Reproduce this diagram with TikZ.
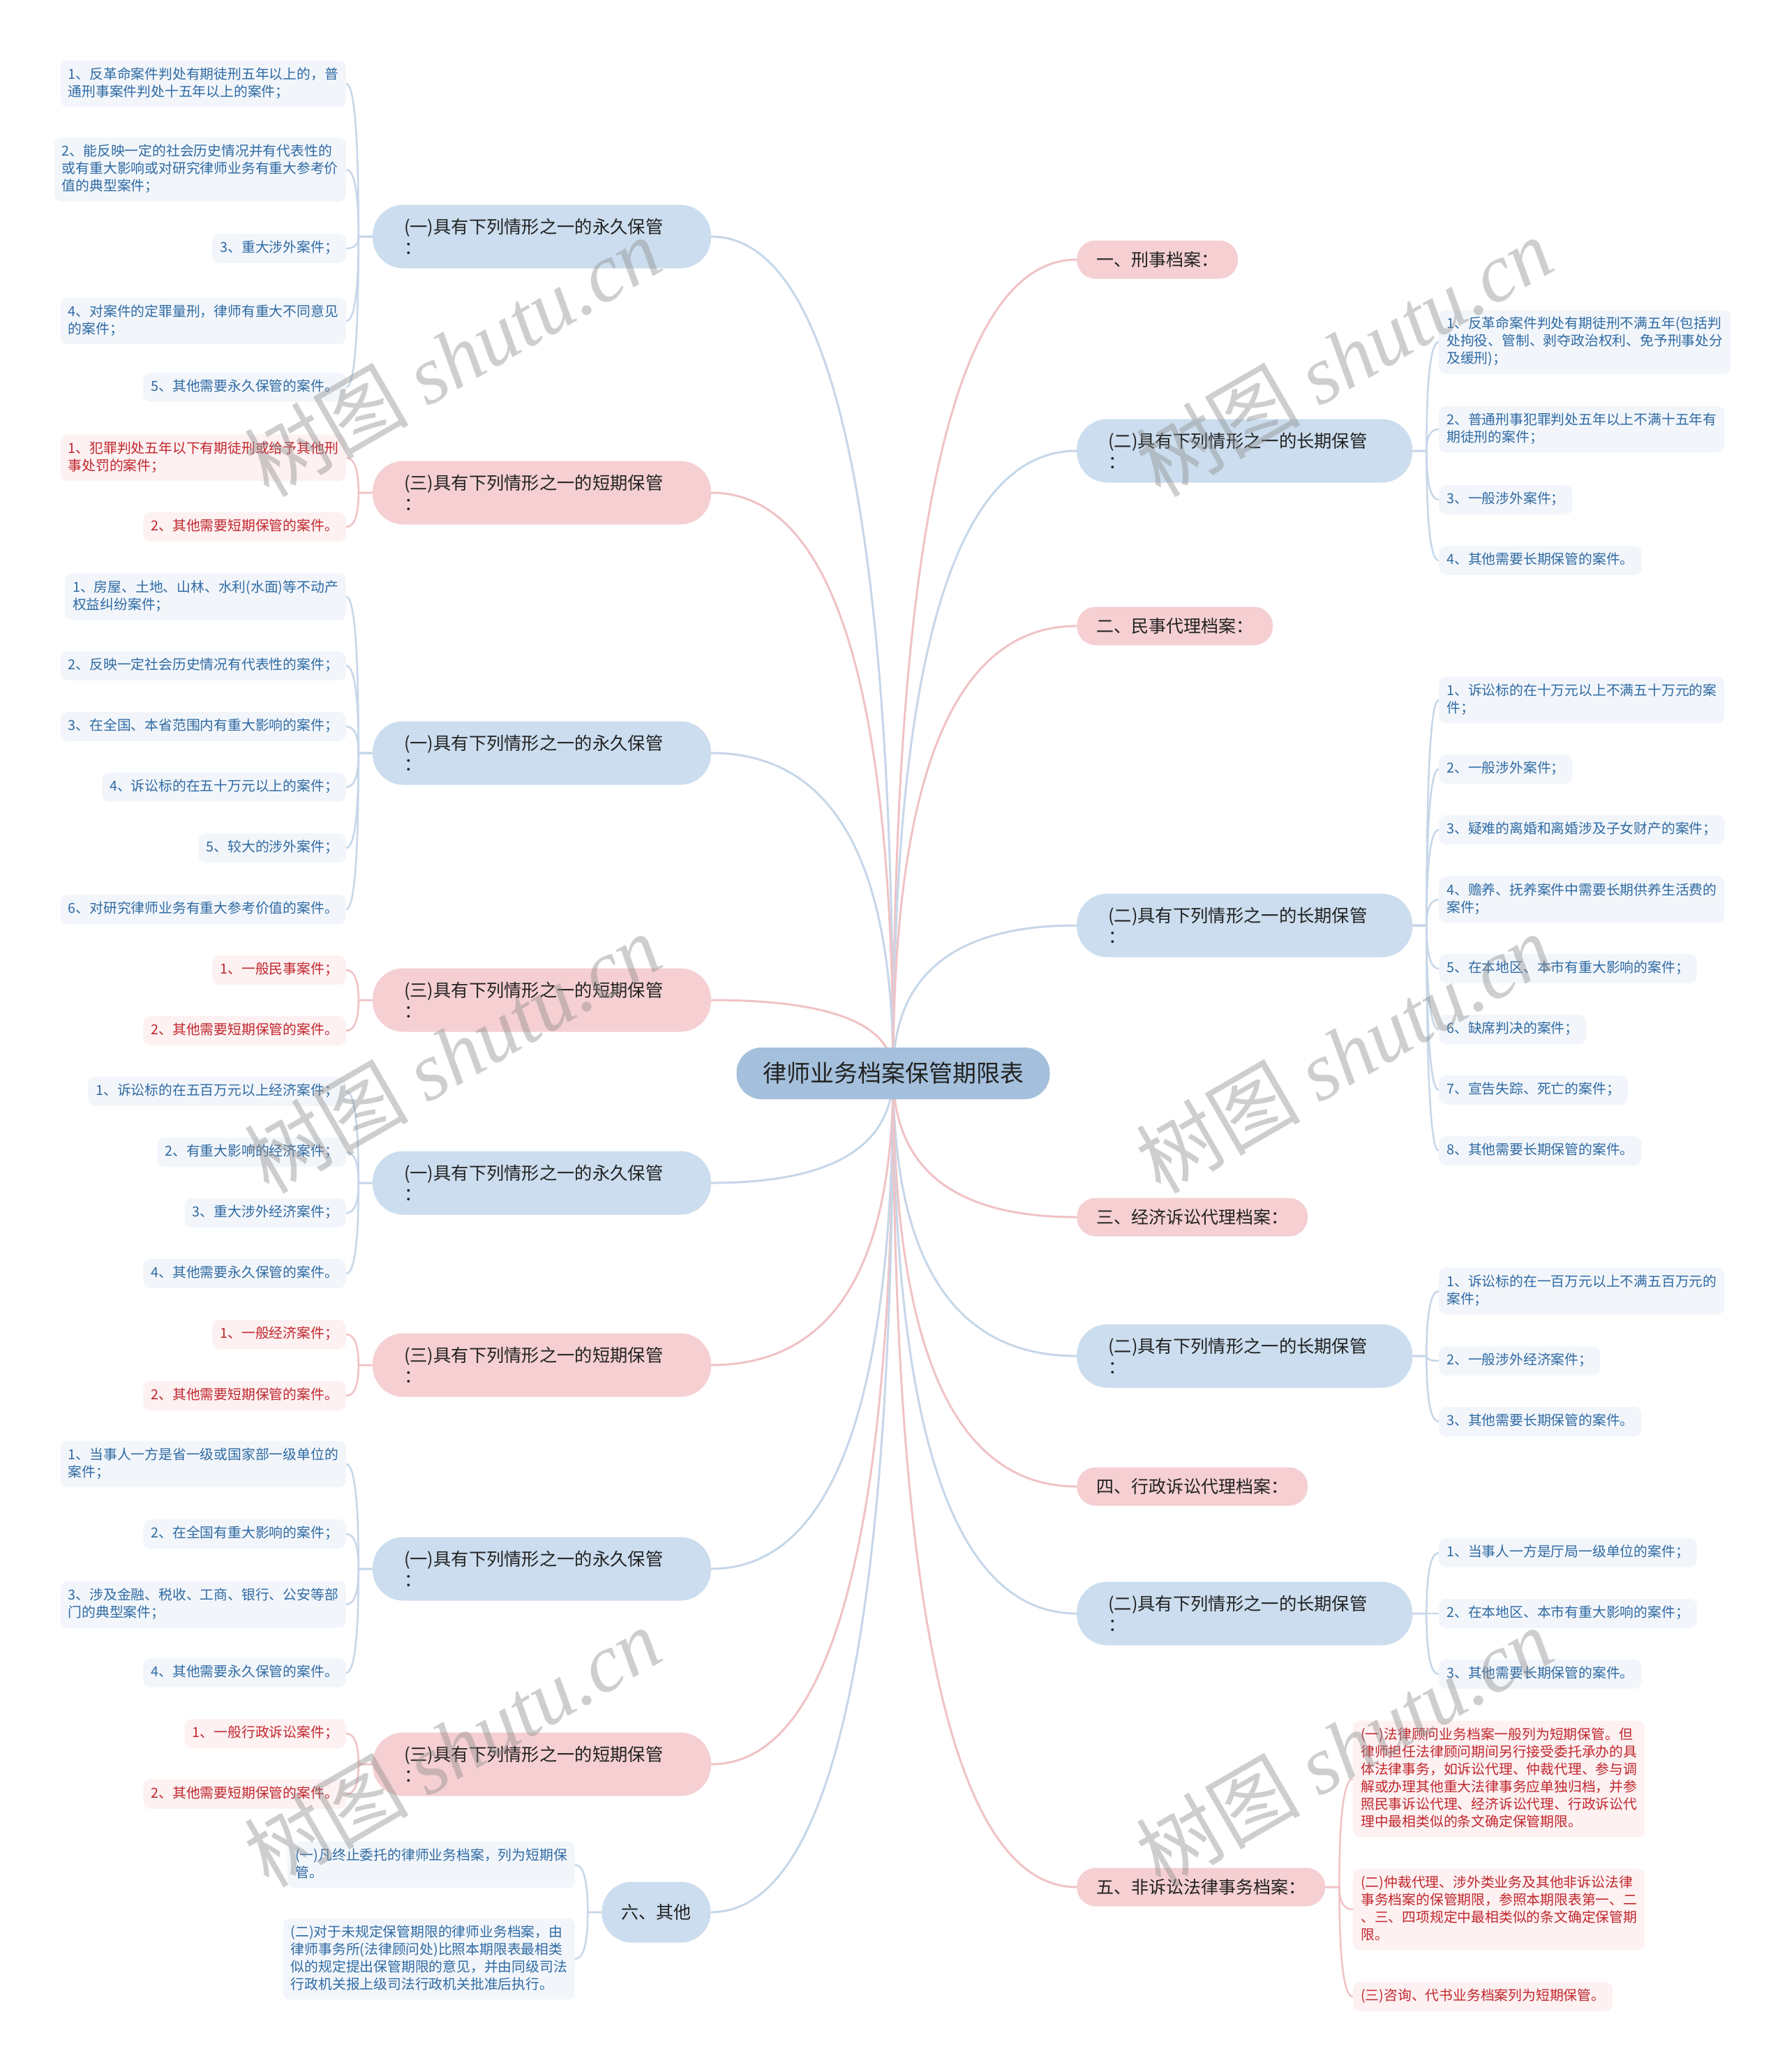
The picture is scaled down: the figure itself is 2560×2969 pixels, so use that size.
\documentclass[tikz,border=0pt]{standalone}
\usepackage{fontspec}
\setmainfont{Noto Sans CJK SC}
\newfontfamily\wmlat{Liberation Serif}
\usetikzlibrary{calc,backgrounds}
\definecolor{rootfill}{HTML}{A4C0DC}
\definecolor{bluefill}{HTML}{CBDDEE}
\definecolor{pinkfill}{HTML}{F5CFD2}
\definecolor{leafblue}{HTML}{F2F6FB}
\definecolor{leafred}{HTML}{FDF1F2}
\definecolor{txtblue}{HTML}{2F6AA3}
\definecolor{txtred}{HTML}{C1272D}
\definecolor{lnblue}{HTML}{C6D7E8}
\definecolor{lnpink}{HTML}{F0C2C5}
\definecolor{txtdark}{HTML}{222222}
\definecolor{wmgray}{HTML}{8C8C8C}
\newcommand{\lstrut}{\rule[-5pt]{0pt}{20pt}}
\newcommand{\rootL}[2]{%
  \path (root.center |- #2.east) coordinate (mmq);
  \draw[#1,line width=3pt] (root.center) .. controls ($(root.center)!0.667!(mmq)$) and ($(#2.east)!0.667!(mmq)$) .. (#2.east);}
\newcommand{\rootR}[2]{%
  \path (root.center |- #2.west) coordinate (mmq);
  \draw[#1,line width=3pt] (root.center) .. controls ($(root.center)!0.667!(mmq)$) and ($(#2.west)!0.667!(mmq)$) .. (#2.west);}
\newcommand{\hookL}[3]{%
  \path ([xshift=-20pt]#2.west) coordinate (hj);
  \path (hj |- #3.east) coordinate (hq);
  \draw[#1,line width=2.5pt] (#2.west) -- (hj) .. controls ($(hj)!0.667!(hq)$) and ($(#3.east)!0.667!(hq)$) .. (#3.east);}
\newcommand{\hookR}[3]{%
  \path ([xshift=20pt]#2.east) coordinate (hj);
  \path (hj |- #3.west) coordinate (hq);
  \draw[#1,line width=2.5pt] (#2.east) -- (hj) .. controls ($(hj)!0.667!(hq)$) and ($(#3.west)!0.667!(hq)$) .. (#3.west);}
\tikzset{
  rootnode/.style={fill=rootfill, rounded corners=36pt, minimum width=449pt, minimum height=74pt, font=\fontsize{34}{40}\selectfont, text=txtdark, inner sep=0pt},
  lvone/.style={rounded corners=44pt, minimum height=91pt, text width=395pt, inner xsep=45pt, inner ysep=0pt, align=left, font=\fontsize{25.3}{30}\selectfont, text=txtdark},
  lvblue/.style={lvone, fill=bluefill},
  lvpink/.style={lvone, fill=pinkfill},
  lvr/.style={text width=391pt},
  lvsingle/.style={fill=pinkfill, rounded corners=27pt, minimum height=55pt, inner xsep=28pt, inner ysep=0pt, font=\fontsize{25}{30}\selectfont, text=txtdark},
  sixnode/.style={fill=bluefill, rounded corners=43pt, minimum height=87pt, inner xsep=28pt, inner ysep=0pt, font=\fontsize{25}{30}\selectfont, text=txtdark},
  leaf/.style={rounded corners=10pt, inner xsep=11pt, inner ysep=10pt, align=left, font=\fontsize{19.8}{25}\selectfont, execute at begin node=\lstrut, execute at end node=\lstrut},
  leafb/.style={leaf, fill=leafblue, text=txtblue},
  leafr/.style={leaf, fill=leafred, text=txtred},
  wm/.style={rotate=30, text=wmgray, text opacity=0.42, font=\fontsize{118}{118}\selectfont}
}
\begin{document}
\begin{tikzpicture}[x=1pt,y=-1pt]
\useasboundingbox (0,0) rectangle (2560,2969);
% root
\node[rootnode] (root) at (1280,1538) {律师业务档案保管期限表};
% left level one
\node[lvblue] (pA) at (776.5,339) {(一)具有下列情形之一的永久保管\\：};
\node[lvpink] (sA) at (776.5,706) {(三)具有下列情形之一的短期保管\\：};
\node[lvblue] (pB) at (776.5,1079) {(一)具有下列情形之一的永久保管\\：};
\node[lvpink] (sB) at (776.5,1433) {(三)具有下列情形之一的短期保管\\：};
\node[lvblue] (pC) at (776.5,1695) {(一)具有下列情形之一的永久保管\\：};
\node[lvpink] (sC) at (776.5,1956) {(三)具有下列情形之一的短期保管\\：};
\node[lvblue] (pD) at (776.5,2248) {(一)具有下列情形之一的永久保管\\：};
\node[lvpink] (sD) at (776.5,2528) {(三)具有下列情形之一的短期保管\\：};
\node[sixnode] (six) at (940.5,2740) {六、其他};
% right level one
\node[lvsingle, anchor=west] (k1) at (1543,372) {一、刑事档案：};
\node[lvblue, lvr, anchor=west] (lA) at (1543,646) {(二)具有下列情形之一的长期保管\\：};
\node[lvsingle, anchor=west] (k2) at (1543,897) {二、民事代理档案：};
\node[lvblue, lvr, anchor=west] (lB) at (1543,1326) {(二)具有下列情形之一的长期保管\\：};
\node[lvsingle, anchor=west] (k3) at (1543,1744) {三、经济诉讼代理档案：};
\node[lvblue, lvr, anchor=west] (lC) at (1543,1943) {(二)具有下列情形之一的长期保管\\：};
\node[lvsingle, anchor=west] (k4) at (1543,2130) {四、行政诉讼代理档案：};
\node[lvblue, lvr, anchor=west] (lD) at (1543,2312) {(二)具有下列情形之一的长期保管\\：};
\node[lvsingle, anchor=west] (k5) at (1543,2704) {五、非诉讼法律事务档案：};
% left leaves
\node[leafb, anchor=east] (a1) at (496,120) {1、反革命案件判处有期徒刑五年以上的，普\\通刑事案件判处十五年以上的案件；};
\node[leafb, anchor=east] (a2) at (496,243) {2、能反映一定的社会历史情况并有代表性的\\或有重大影响或对研究律师业务有重大参考价\\值的典型案件；};
\node[leafb, anchor=east] (a3) at (496,356) {3、重大涉外案件；};
\node[leafb, anchor=east] (a4) at (496,460) {4、对案件的定罪量刑，律师有重大不同意见\\的案件；};
\node[leafb, anchor=east] (a5) at (496,555) {5、其他需要永久保管的案件。};
\node[leafr, anchor=east] (b1) at (496,656) {1、犯罪判处五年以下有期徒刑或给予其他刑\\事处罚的案件；};
\node[leafr, anchor=east] (b2) at (496,755) {2、其他需要短期保管的案件。};
\node[leafb, anchor=east] (c1) at (496,855) {1、房屋、土地、山林、水利(水面)等不动产\\权益纠纷案件；};
\node[leafb, anchor=east] (c2) at (496,954) {2、反映一定社会历史情况有代表性的案件；};
\node[leafb, anchor=east] (c3) at (496,1041) {3、在全国、本省范围内有重大影响的案件；};
\node[leafb, anchor=east] (c4) at (496,1128) {4、诉讼标的在五十万元以上的案件；};
\node[leafb, anchor=east] (c5) at (496,1215) {5、较大的涉外案件；};
\node[leafb, anchor=east] (c6) at (496,1303) {6、对研究律师业务有重大参考价值的案件。};
\node[leafr, anchor=east] (d1) at (496,1390) {1、一般民事案件；};
\node[leafr, anchor=east] (d2) at (496,1477) {2、其他需要短期保管的案件。};
\node[leafb, anchor=east] (e1) at (496,1564) {1、诉讼标的在五百万元以上经济案件；};
\node[leafb, anchor=east] (e2) at (496,1651) {2、有重大影响的经济案件；};
\node[leafb, anchor=east] (e3) at (496,1738) {3、重大涉外经济案件；};
\node[leafb, anchor=east] (e4) at (496,1825) {4、其他需要永久保管的案件。};
\node[leafr, anchor=east] (f1) at (496,1912) {1、一般经济案件；};
\node[leafr, anchor=east] (f2) at (496,2000) {2、其他需要短期保管的案件。};
\node[leafb, anchor=east] (g1) at (496,2098) {1、当事人一方是省一级或国家部一级单位的\\案件；};
\node[leafb, anchor=east] (g2) at (496,2198) {2、在全国有重大影响的案件；};
\node[leafb, anchor=east] (g3) at (496,2299) {3、涉及金融、税收、工商、银行、公安等部\\门的典型案件；};
\node[leafb, anchor=east] (g4) at (496,2397) {4、其他需要永久保管的案件。};
\node[leafr, anchor=east] (h1) at (496,2484) {1、一般行政诉讼案件；};
\node[leafr, anchor=east] (h2) at (496,2571) {2、其他需要短期保管的案件。};
\node[leafb, anchor=east] (i1) at (824,2672) {(一)凡终止委托的律师业务档案，列为短期保\\管。};
\node[leafb, anchor=east] (i2) at (824,2807) {(二)对于未规定保管期限的律师业务档案，由\\律师事务所(法律顾问处)比照本期限表最相类\\似的规定提出保管期限的意见，并由同级司法\\行政机关报上级司法行政机关批准后执行。};
% right leaves
\node[leafb, anchor=west] (m1) at (2062,490) {1、反革命案件判处有期徒刑不满五年(包括判\\处拘役、管制、剥夺政治权利、免予刑事处分\\及缓刑)；};
\node[leafb, anchor=west] (m2) at (2062,615) {2、普通刑事犯罪判处五年以上不满十五年有\\期徒刑的案件；};
\node[leafb, anchor=west] (m3) at (2062,716) {3、一般涉外案件；};
\node[leafb, anchor=west] (m4) at (2062,803) {4、其他需要长期保管的案件。};
\node[leafb, anchor=west] (n1) at (2062,1003) {1、诉讼标的在十万元以上不满五十万元的案\\件；};
\node[leafb, anchor=west] (n2) at (2062,1102) {2、一般涉外案件；};
\node[leafb, anchor=west] (n3) at (2062,1189) {3、疑难的离婚和离婚涉及子女财产的案件；};
\node[leafb, anchor=west] (n4) at (2062,1289) {4、赡养、抚养案件中需要长期供养生活费的\\案件；};
\node[leafb, anchor=west] (n5) at (2062,1388) {5、在本地区、本市有重大影响的案件；};
\node[leafb, anchor=west] (n6) at (2062,1475) {6、缺席判决的案件；};
\node[leafb, anchor=west] (n7) at (2062,1562) {7、宣告失踪、死亡的案件；};
\node[leafb, anchor=west] (n8) at (2062,1649) {8、其他需要长期保管的案件。};
\node[leafb, anchor=west] (o1) at (2062,1850) {1、诉讼标的在一百万元以上不满五百万元的\\案件；};
\node[leafb, anchor=west] (o2) at (2062,1950) {2、一般涉外经济案件；};
\node[leafb, anchor=west] (o3) at (2062,2037) {3、其他需要长期保管的案件。};
\node[leafb, anchor=west] (q1) at (2062,2225) {1、当事人一方是厅局一级单位的案件；};
\node[leafb, anchor=west] (q2) at (2062,2312) {2、在本地区、本市有重大影响的案件；};
\node[leafb, anchor=west] (q3) at (2062,2399) {3、其他需要长期保管的案件。};
\node[leafr, anchor=west] (r1) at (1939,2549) {(一)法律顾问业务档案一般列为短期保管。但\\律师担任法律顾问期间另行接受委托承办的具\\体法律事务，如诉讼代理、仲裁代理、参与调\\解或办理其他重大法律事务应单独归档，并参\\照民事诉讼代理、经济诉讼代理、行政诉讼代\\理中最相类似的条文确定保管期限。};
\node[leafr, anchor=west] (r2) at (1939,2736) {(二)仲裁代理、涉外类业务及其他非诉讼法律\\事务档案的保管期限，参照本期限表第一、二\\、三、四项规定中最相类似的条文确定保管期\\限。};
\node[leafr, anchor=west] (r3) at (1939,2861) {(三)咨询、代书业务档案列为短期保管。};
% connectors
\begin{scope}[on background layer]
\fill[white] (0,0) rectangle (2560,2969);
\rootL{lnblue}{pA}\rootL{lnpink}{sA}\rootL{lnblue}{pB}\rootL{lnpink}{sB}
\rootL{lnblue}{pC}\rootL{lnpink}{sC}\rootL{lnblue}{pD}\rootL{lnpink}{sD}
\rootL{lnblue}{six}
\rootR{lnpink}{k1}\rootR{lnblue}{lA}\rootR{lnpink}{k2}\rootR{lnblue}{lB}
\rootR{lnpink}{k3}\rootR{lnblue}{lC}\rootR{lnpink}{k4}\rootR{lnblue}{lD}
\rootR{lnpink}{k5}
\foreach \l in {a1,a2,a3,a4,a5} {\hookL{lnblue}{pA}{\l}}
\foreach \l in {b1,b2} {\hookL{lnpink}{sA}{\l}}
\foreach \l in {c1,c2,c3,c4,c5,c6} {\hookL{lnblue}{pB}{\l}}
\foreach \l in {d1,d2} {\hookL{lnpink}{sB}{\l}}
\foreach \l in {e1,e2,e3,e4} {\hookL{lnblue}{pC}{\l}}
\foreach \l in {f1,f2} {\hookL{lnpink}{sC}{\l}}
\foreach \l in {g1,g2,g3,g4} {\hookL{lnblue}{pD}{\l}}
\foreach \l in {h1,h2} {\hookL{lnpink}{sD}{\l}}
\foreach \l in {i1,i2} {\hookL{lnblue}{six}{\l}}
\foreach \l in {m1,m2,m3,m4} {\hookR{lnblue}{lA}{\l}}
\foreach \l in {n1,n2,n3,n4,n5,n6,n7,n8} {\hookR{lnblue}{lB}{\l}}
\foreach \l in {o1,o2,o3} {\hookR{lnblue}{lC}{\l}}
\foreach \l in {q1,q2,q3} {\hookR{lnblue}{lD}{\l}}
\foreach \l in {r1,r2,r3} {\hookR{lnpink}{k5}{\l}}
\end{scope}
% watermarks
\foreach \wx/\wy [count=\i] in {648/511, 1926/511, 648/1509, 1926/1509, 648/2503, 1926/2503}
  \node[wm] (wm\i) at (\wx,\wy) {树图 {\wmlat\itshape shutu.cn}};
\end{tikzpicture}
\end{document}
